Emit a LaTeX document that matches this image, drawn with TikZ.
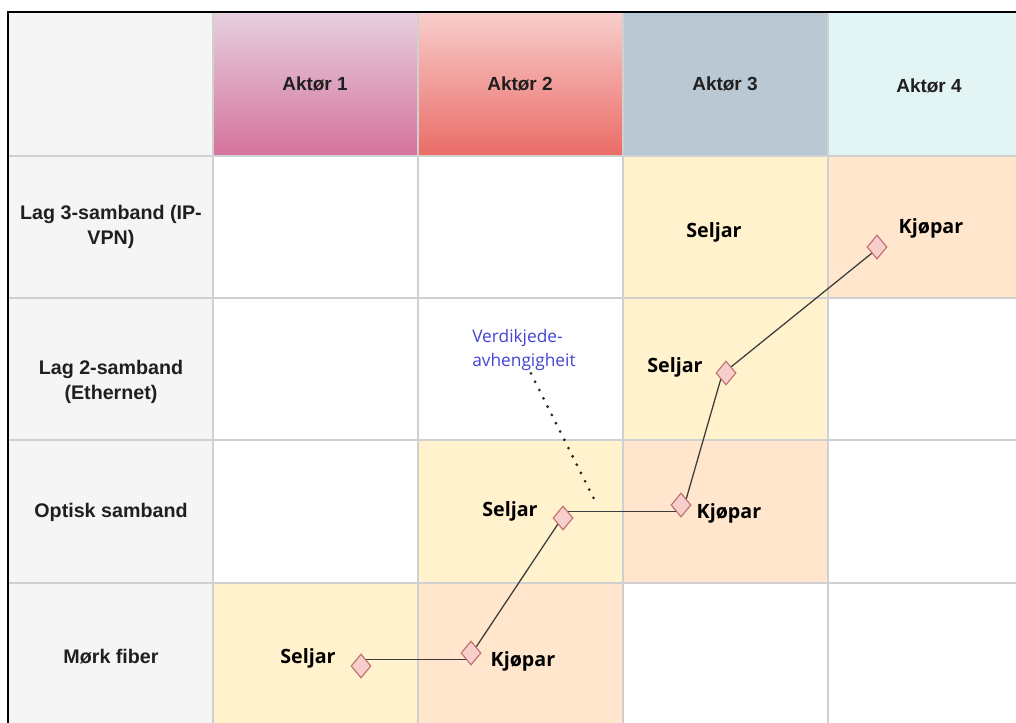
\documentclass[tikz,border=0pt]{standalone}
\usepackage{fontspec}
\setmainfont{Liberation Sans}
\newfontfamily\rolefont{Open Sans}
\usetikzlibrary{shapes.geometric, positioning, calc}
\definecolor{gridline}{RGB}{208,208,208}
\definecolor{sidegray}{RGB}{245,245,245}
\definecolor{pinktop}{RGB}{230,208,222}
\definecolor{pinkbot}{RGB}{213,115,157}
\definecolor{redtop}{RGB}{248,206,204}
\definecolor{redbot}{RGB}{234,107,102}
\definecolor{slate}{RGB}{186,200,211}
\definecolor{paleteal}{RGB}{227,244,245}
\definecolor{sellerbg}{RGB}{255,242,204}
\definecolor{buyerbg}{RGB}{255,230,204}
\definecolor{knotfill}{RGB}{248,206,204}
\definecolor{knotdraw}{RGB}{192,112,110}
\definecolor{chaindark}{RGB}{60,60,60}
\definecolor{noteblue}{RGB}{68,68,210}
\tikzset{
  hdr/.style={font=\bfseries\fontsize{13.5}{16}\selectfont, text=black!88, align=center},
  rowlbl/.style={font=\bfseries\fontsize{14}{17.5}\selectfont, text=black!88, align=center},
  role/.style={font=\rolefont\bfseries\fontsize{14}{17}\selectfont, anchor=base, inner sep=0pt},
  knot/.style={diamond, draw=knotdraw, fill=knotfill, minimum width=0.5cm,
    minimum height=0.6cm, inner sep=0pt, line width=0.8pt},
  chain/.style={chaindark, line width=0.9pt},
  dotline/.style={black!85, line width=2.2pt, line cap=round, dash pattern=on 0pt off 6.6pt},
  note/.style={font=\rolefont\fontsize{12.3}{17}\selectfont, text=noteblue, align=left, inner sep=0pt}
}

\begin{document}
\begin{tikzpicture}[x=0.025cm, y=-0.025cm]
  \useasboundingbox (0,0) rectangle (1016,722);
  \clip (0,0) rectangle (1016,722);

  % Left column and header corner
  \fill[sidegray] (8,12) rectangle (213,726);

  % Actor headers
  \shade[top color=pinktop, bottom color=pinkbot] (213,12) rectangle (418,156);
  \shade[top color=redtop, bottom color=redbot] (418,12) rectangle (623,156);
  \fill[slate] (623,12) rectangle (828,156);
  \fill[paleteal] (828,12) rectangle (1033,156);

  % Seller / buyer cells
  \fill[sellerbg] (623,156) rectangle (828,440);
  \fill[buyerbg] (828,156) rectangle (1033,298);
  \fill[sellerbg] (418,440) rectangle (623,583);
  \fill[buyerbg] (623,440) rectangle (828,583);
  \fill[sellerbg] (213,583) rectangle (418,726);
  \fill[buyerbg] (418,583) rectangle (623,726);

  % Grid
  \foreach \x in {213,418,623,828}
    \draw[gridline, line width=1pt] (\x,12) -- (\x,726);
  \foreach \y in {156,298,440,583}
    \draw[gridline, line width=1pt] (8,\y) -- (1016,\y);
  \draw[line width=1.5pt] (8,726) -- (8,12) -- (1016,12);

  % Header texts
  \node[hdr] (akt1) at (315,84) {Aktør 1};
  \node[hdr] (akt2) at (520,84) {Aktør 2};
  \node[hdr] (akt3) at (725,84) {Aktør 3};
  \node[hdr] (akt4) at (929,86) {Aktør 4};

  % Layer labels
  \node[rowlbl] (lag3) at (111,227) {Lag 3-samband (IP-\\VPN)};
  \node[rowlbl] (lag2) at (111,382) {Lag 2-samband\\(Ethernet)};
  \node[rowlbl] (optisk) at (111,512) {Optisk samband};
  \node[rowlbl] (fiber) at (111,657) {Mørk fiber};

  % Roles
  \node[role] (selg3) at (714,237) {Seljar};
  \node[role] (kjop3) at (931,233) {Kjøpar};
  \node[role] (selg2) at (675,372) {Seljar};
  \node[role] (selg1) at (510,516) {Seljar};
  \node[role] (kjop1) at (729,518) {Kjøpar};
  \node[role] (selg0) at (308,663) {Seljar};
  \node[role] (kjop0) at (523,666) {Kjøpar};

  % Chain knots
  \node[knot] (k0s) at (361,666) {};
  \node[knot] (k0b) at (471,653) {};
  \node[knot] (k1s) at (563,518) {};
  \node[knot] (k1b) at (681,505) {};
  \node[knot] (k2s) at (726,373) {};
  \node[knot] (k3b) at (877,247) {};

  \draw[chain] (k0s.north east) -- (k0s.north east -| k0b.south west);
  \draw[chain] (k0b.north east) -- (k1s.south west);
  \draw[chain] (k1s.north east) -- (k1s.north east -| k1b.south west);
  \draw[chain] (k1b.north east) -- (k2s.south west);
  \draw[chain] (k2s.north east) -- (k3b.south west);

  % Dependency note
  \node[note, anchor=base west] (note) at (472,366) {Verdikjede-\\avhengigheit};
  \coordinate (dep) at (597,505);
  \draw[dotline] ($(note.south west)+(59,3)$) -- (dep);
\end{tikzpicture}
\end{document}
